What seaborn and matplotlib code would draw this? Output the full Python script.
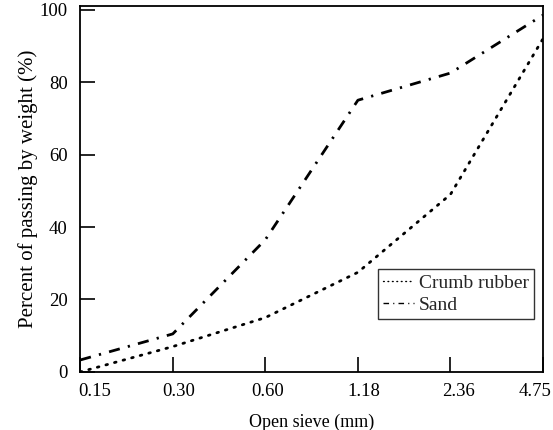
import matplotlib
matplotlib.use("Agg")
import matplotlib.pyplot as plt
import matplotlib.transforms as mtransforms
import seaborn as sns
import pandas as pd

sieve = ["0.15", "0.30", "0.60", "1.18", "2.36", "4.75"]
crumb_rubber = [0, 7, 15, 27.5, 49, 92]
sand = [3.3, 10.5, 36.5, 75, 82.5, 98.5]
yticks = [0, 20, 40, 60, 80, 100]

sns.set_theme(style="white")
plt.rcParams["font.family"] = ["Liberation Serif", "DejaVu Serif"]

df = pd.DataFrame({
    "pos": list(range(len(sieve))) * 2,
    "value": crumb_rubber + sand,
    "series": ["Crumb rubber"] * len(sieve) + ["Sand"] * len(sieve),
})

fig, ax = plt.subplots(figsize=(5.53, 4.30), dpi=100)
fig.subplots_adjust(left=0.145, right=0.982, top=0.986, bottom=0.135)

sns.lineplot(data=df[df.series == "Crumb rubber"], x="pos", y="value", ax=ax,
             color="black", linewidth=2.0, label="Crumb rubber")
sns.lineplot(data=df[df.series == "Sand"], x="pos", y="value", ax=ax,
             color="black", linewidth=2.0, label="Sand")
lines = ax.get_lines()
lines[0].set_linestyle((0, (0.6, 2.6)))
lines[0].set_dash_capstyle("round")
lines[1].set_linestyle((0, (4, 3, 0.8, 3)))

ax.set_xlim(0, len(sieve) - 1)
ax.set_ylim(0, 101)
ax.set_xticks(range(len(sieve)))
ax.set_xticklabels(sieve)
ax.set_yticks(yticks)
ax.set_yticklabels([str(v) for v in yticks])
ax.tick_params(axis="both", direction="in", length=11, width=1.2, labelsize=13.5,
               colors="black", bottom=True, left=True)
ax.tick_params(axis="x", pad=8)
ax.tick_params(axis="y", pad=9)
for s in ax.spines.values():
    s.set_color("black")
    s.set_linewidth(1.3)

ax.set_xlabel("Open sieve (mm)", fontsize=13, color="black", labelpad=10)
ax.set_ylabel("Percent of passing by weight (%)", fontsize=15, color="black", labelpad=1)

# small horizontal offsets of the tick labels, as in the reference
offsets_px = [15, 6, 2, 6, 8, -8]
for lab, dx in zip(ax.get_xticklabels(), offsets_px):
    lab.set_transform(lab.get_transform() +
                      mtransforms.ScaledTranslation(dx / 100, 0, fig.dpi_scale_trans))

leg = ax.legend(loc="lower right", bbox_to_anchor=(0.98, 0.145), fontsize=14,
                frameon=True, fancybox=False, handlelength=1.6, handletextpad=0.25,
                borderpad=0.25, labelspacing=0.25, borderaxespad=0)
leg.get_frame().set_edgecolor("black")
leg.get_frame().set_linewidth(1.0)
for h in leg.get_lines():
    h.set_linewidth(1.0)

fig.savefig("out.png", dpi=100)
